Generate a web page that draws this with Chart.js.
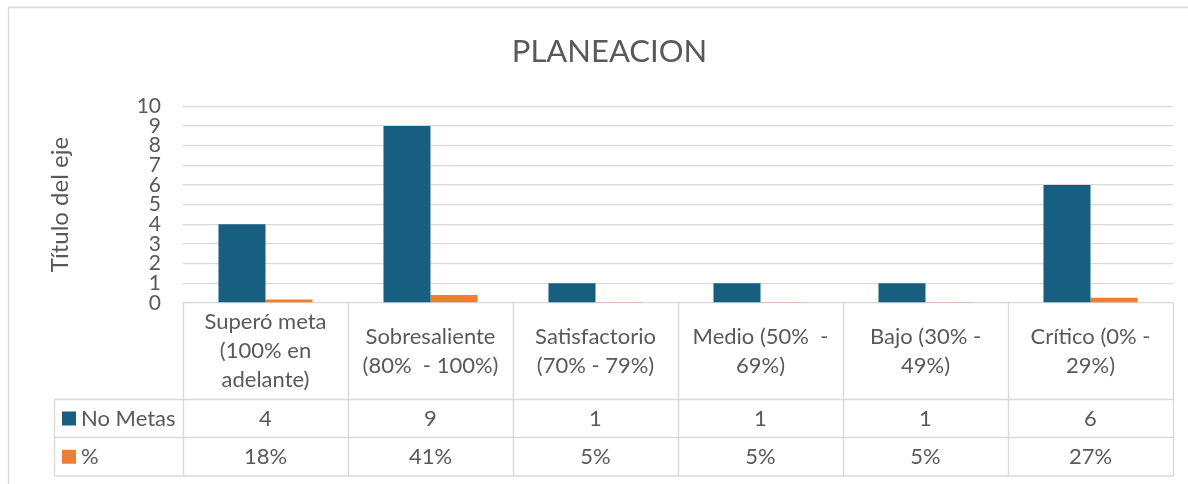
<!DOCTYPE html>
<html><head><meta charset="utf-8">
<script src="https://cdn.jsdelivr.net/npm/chart.js@4.4.0/dist/chart.umd.min.js"></script>
<style>html,body{margin:0;padding:0;background:#fff;overflow:hidden}#wrap{width:1188px;height:484px;position:relative}</style>
</head><body><div id="wrap"><canvas id="c" width="1188" height="484"></canvas></div>
<script>
// ---- data ----
const chartTitle = "PLANEACION";
const axisTitle = "Título del eje";
const categories = [
  ["Superó meta", "(100% en", "adelante)"],
  ["Sobresaliente", "(80%  - 100%)"],
  ["Satisfactorio", "(70% - 79%)"],
  ["Medio (50%  -", "69%)"],
  ["Bajo (30% -", "49%)"],
  ["Crítico (0% -", "29%)"]
];
const seriesNames = ["No Metas", "%"];
const noMetas = [4, 9, 1, 1, 1, 6];
const pct = [0.18, 0.41, 0.05, 0.05, 0.05, 0.27];
const yMin = 0, yMax = 10, yStep = 1;

// ---- style ----
const FONT = "Lato";
const TXT = "#595959";
const GRID = "#d9d9d9";
const colors = ["#175E81", "#ED7D31"];
Chart.defaults.font.family = FONT;
Chart.defaults.color = TXT;

const fmt = [v => String(v), v => Math.round(v * 100) + "%"];
const seriesData = [noMetas, pct];

const frame = {
  id: "frame",
  beforeDraw(chart) {
    const ctx = chart.ctx;
    ctx.save();
    ctx.fillStyle = "#fff";
    ctx.fillRect(0, 0, chart.width, chart.height);
    ctx.strokeStyle = GRID;
    ctx.lineWidth = 1.3;
    ctx.beginPath();
    ctx.moveTo(8, 7.5); ctx.lineTo(chart.width, 7.5);
    ctx.moveTo(8.5, 7); ctx.lineTo(8.5, chart.height);
    ctx.stroke();
    ctx.restore();
  }
};

const dataTable = {
  id: "dataTable",
  afterDraw(chart) {
    const { ctx, chartArea: ca, scales: { x } } = chart;
    const n = categories.length;
    const w = (ca.right - ca.left) / n;
    const r1 = 399.5, r2 = 437.5, r3 = 476, legendLeft = 54.5;
    ctx.save();
    ctx.strokeStyle = GRID;
    ctx.lineWidth = 1.4;
    ctx.beginPath();
    [r1, r2, r3].forEach(y => { ctx.moveTo(legendLeft, y); ctx.lineTo(ca.right, y); });
    ctx.moveTo(legendLeft, r1); ctx.lineTo(legendLeft, r3);
    for (let i = 0; i <= n; i++) {
      const xx = Math.round(ca.left + i * w) + 0.5;
      ctx.moveTo(xx, ca.bottom); ctx.lineTo(xx, r3);
    }
    ctx.stroke();

    ctx.fillStyle = TXT;
    ctx.font = "22px " + FONT;
    ctx.textAlign = "center";
    ctx.textBaseline = "middle";
    const lh = 29;
    const cy = (ca.bottom + r1) / 2;
    categories.forEach((lines, i) => {
      const cx = x.getPixelForValue(i);
      const y0 = cy - (lines.length - 1) * lh / 2;
      lines.forEach((t, k) => ctx.fillText(t, cx, y0 + k * lh));
    });
    const rows = [(r1 + r2) / 2, (r2 + r3) / 2];
    seriesData.forEach((arr, s) => {
      arr.forEach((v, i) => {
        ctx.fillStyle = TXT;
        ctx.fillText(fmt[s](v), x.getPixelForValue(i), rows[s]);
      });
      ctx.fillStyle = colors[s];
      ctx.fillRect(62, rows[s] - 7, 14, 14);
      ctx.fillStyle = TXT;
      ctx.textAlign = "left";
      ctx.fillText(seriesNames[s], 81, rows[s]);
      ctx.textAlign = "center";
    });
    ctx.restore();
  }
};

new Chart(document.getElementById("c"), {
  type: "bar",
  data: {
    labels: categories,
    datasets: seriesNames.map((name, s) => ({
      label: name,
      data: seriesData[s],
      backgroundColor: colors[s],
      borderWidth: 0,
      categoryPercentage: 0.57,
      barPercentage: 1
    }))
  },
  options: {
    responsive: false,
    animation: false,
    devicePixelRatio: 1,
    layout: { padding: { left: 46, right: 15, top: 7, bottom: 181 } },
    plugins: {
      legend: { display: false },
      tooltip: { enabled: false },
      title: {
        display: true, text: chartTitle, color: TXT,
        font: { size: 31, weight: "normal", family: FONT },
        padding: { top: 26, bottom: 36 }
      }
    },
    scales: {
      x: { display: false },
      y: {
        min: yMin, max: yMax,
        ticks: { stepSize: yStep, autoSkip: false, color: TXT, font: { size: 21 }, padding: 22 },
        grid: { color: GRID, lineWidth: 1.3, drawTicks: false },
        border: { display: false },
        title: { display: true, text: axisTitle, color: TXT, font: { size: 24 }, padding: 0 },
        afterFit(s) { s.width = 137; }
      }
    }
  },
  plugins: [frame, dataTable]
});
</script>
</body></html>
